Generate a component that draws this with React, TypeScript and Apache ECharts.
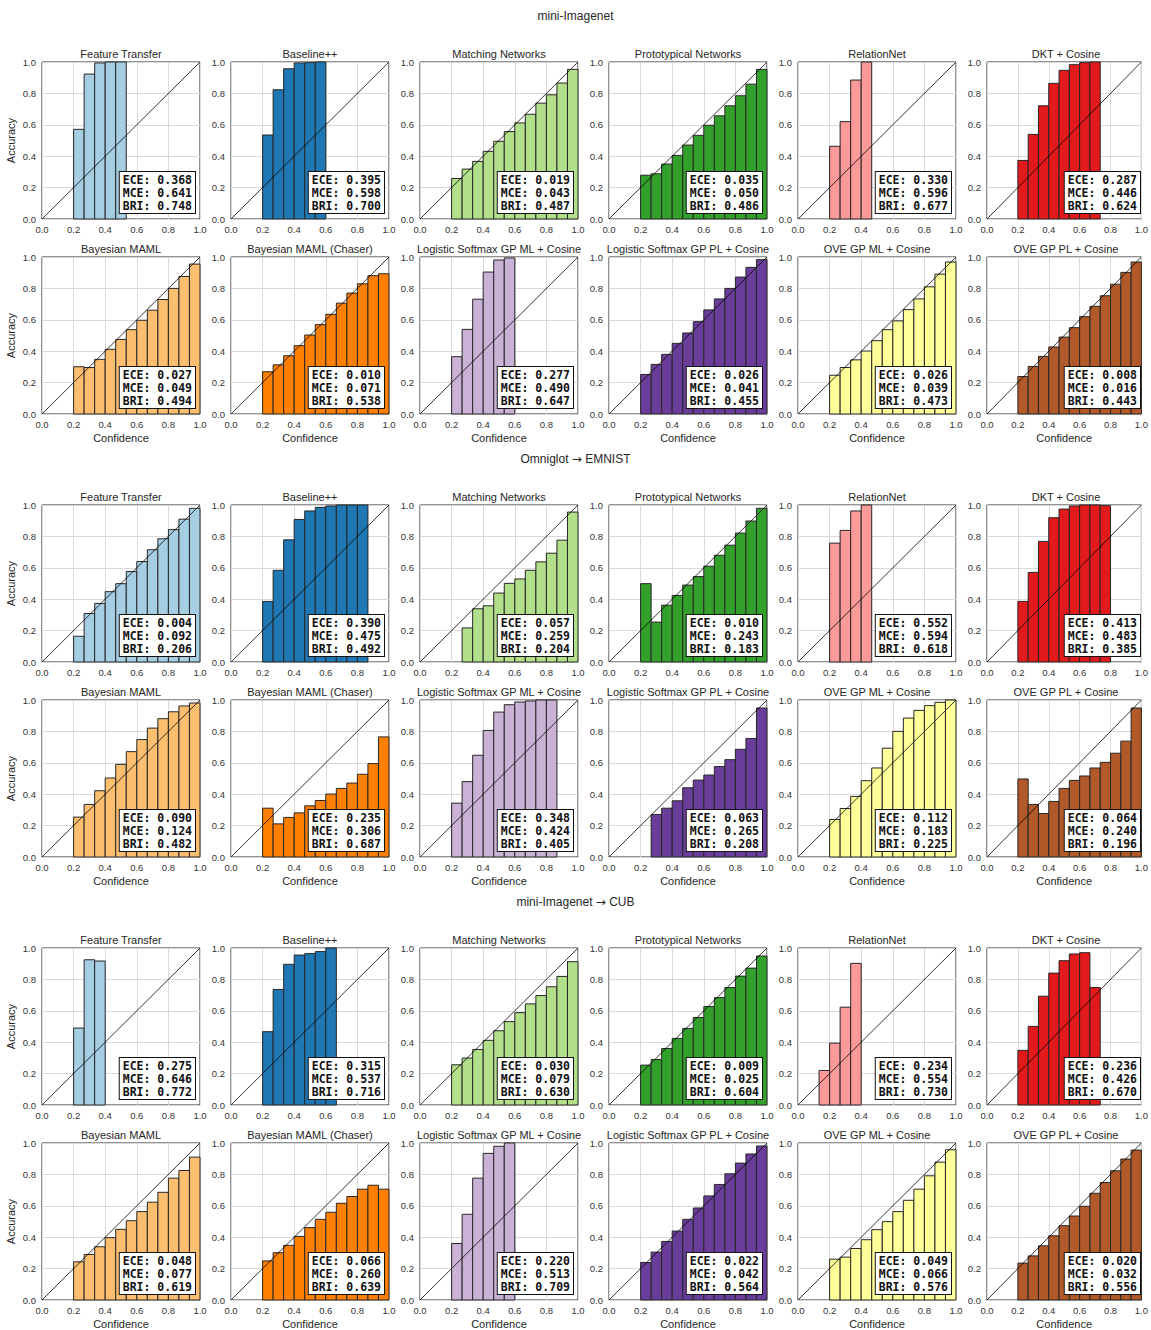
import React, { useEffect, useRef } from "react";
import * as echarts from "echarts";

const W = 1151;
const H = 1330;
const NBINS = 15;
const FONT = "Liberation Sans, Arial, sans-serif";
const MONO = "DejaVu Sans Mono, monospace";

const sectionTitles = ["mini-Imagenet", "Omniglot {arrow|→} EMNIST", "mini-Imagenet {arrow|→} CUB"];

const plotTitles = [
  "Feature Transfer",
  "Baseline++",
  "Matching Networks",
  "Prototypical Networks",
  "RelationNet",
  "DKT + Cosine",
  "Bayesian MAML",
  "Bayesian MAML (Chaser)",
  "Logistic Softmax GP ML + Cosine",
  "Logistic Softmax GP PL + Cosine",
  "OVE GP ML + Cosine",
  "OVE GP PL + Cosine",
];

const plotColors = [
  "#a6cee3", "#1f78b4", "#b2df8a", "#33a02c", "#fb9a99", "#e31a1c",
  "#fdbf6f", "#ff7f00", "#cab2d6", "#6a3d9a", "#ffff99", "#b15928",
];

const tickValues = [0, 0.2, 0.4, 0.6, 0.8, 1.0];

// ---------- Section 1: mini-Imagenet ----------
const s1StartBin = [3, 3, 3, 3, 3, 3, 3, 3, 3, 3, 3, 3];
const s1Accuracy = [
  [0.571, 0.923, 0.994, 1.0, 1.0],
  [0.535, 0.823, 0.957, 0.994, 0.996, 1.0],
  [0.258, 0.318, 0.367, 0.431, 0.495, 0.557, 0.612, 0.667, 0.738, 0.791, 0.866, 0.953],
  [0.279, 0.288, 0.35, 0.405, 0.471, 0.533, 0.597, 0.657, 0.721, 0.785, 0.859, 0.953],
  [0.463, 0.62, 0.885, 1.0],
  [0.373, 0.539, 0.721, 0.864, 0.947, 0.983, 0.996, 1.0],
  [0.301, 0.296, 0.348, 0.412, 0.475, 0.537, 0.597, 0.661, 0.729, 0.8, 0.876, 0.955],
  [0.269, 0.313, 0.371, 0.435, 0.503, 0.569, 0.635, 0.706, 0.77, 0.829, 0.881, 0.893],
  [0.365, 0.539, 0.731, 0.904, 0.981, 0.994],
  [0.252, 0.316, 0.38, 0.45, 0.516, 0.588, 0.663, 0.733, 0.8, 0.872, 0.934, 0.983],
  [0.247, 0.296, 0.345, 0.401, 0.467, 0.537, 0.593, 0.665, 0.733, 0.81, 0.891, 0.968],
  [0.239, 0.303, 0.367, 0.427, 0.49, 0.55, 0.62, 0.686, 0.753, 0.827, 0.902, 0.968],
];
const s1ECE = [0.368, 0.395, 0.019, 0.035, 0.33, 0.287, 0.027, 0.01, 0.277, 0.026, 0.026, 0.008];
const s1MCE = [0.641, 0.598, 0.043, 0.05, 0.596, 0.446, 0.049, 0.071, 0.49, 0.041, 0.039, 0.016];
const s1BRI = [0.748, 0.7, 0.487, 0.486, 0.677, 0.624, 0.494, 0.538, 0.647, 0.455, 0.473, 0.443];

// ---------- Section 2: Omniglot → EMNIST ----------
const s2StartBin = [3, 3, 4, 3, 3, 3, 3, 3, 3, 4, 3, 3];
const s2Accuracy = [
  [0.164, 0.309, 0.373, 0.448, 0.499, 0.576, 0.64, 0.715, 0.785, 0.843, 0.91, 0.979],
  [0.386, 0.584, 0.778, 0.908, 0.962, 0.985, 0.994, 1.0, 1.0, 1.0],
  [0.217, 0.339, 0.358, 0.439, 0.501, 0.529, 0.584, 0.638, 0.693, 0.776, 0.955],
  [0.499, 0.254, 0.362, 0.424, 0.49, 0.544, 0.61, 0.68, 0.744, 0.821, 0.898, 0.979],
  [0.757, 0.838, 0.962, 1.0],
  [0.386, 0.571, 0.768, 0.919, 0.974, 0.994, 1.0, 1.0, 0.996],
  [0.254, 0.335, 0.422, 0.503, 0.59, 0.671, 0.748, 0.821, 0.881, 0.925, 0.962, 0.981],
  [0.311, 0.211, 0.252, 0.281, 0.326, 0.36, 0.401, 0.437, 0.471, 0.527, 0.595, 0.765],
  [0.343, 0.48, 0.648, 0.806, 0.923, 0.97, 0.987, 0.994, 1.0, 1.0],
  [0.271, 0.311, 0.358, 0.441, 0.49, 0.522, 0.576, 0.62, 0.686, 0.755, 0.949],
  [0.239, 0.309, 0.386, 0.486, 0.567, 0.693, 0.8, 0.885, 0.934, 0.964, 0.985, 1.0],
  [0.497, 0.335, 0.277, 0.354, 0.437, 0.488, 0.516, 0.567, 0.603, 0.661, 0.738, 0.949],
];
const s2ECE = [0.004, 0.39, 0.057, 0.01, 0.552, 0.413, 0.09, 0.235, 0.348, 0.063, 0.112, 0.064];
const s2MCE = [0.092, 0.475, 0.259, 0.243, 0.594, 0.483, 0.124, 0.306, 0.424, 0.265, 0.183, 0.24];
const s2BRI = [0.206, 0.492, 0.204, 0.183, 0.618, 0.385, 0.482, 0.687, 0.405, 0.208, 0.225, 0.196];

// ---------- Section 3: mini-Imagenet → CUB ----------
const s3StartBin = [3, 3, 3, 3, 2, 3, 3, 3, 3, 3, 3, 3];
const s3Accuracy = [
  [0.49, 0.925, 0.917],
  [0.467, 0.736, 0.896, 0.955, 0.964, 0.977, 1.0],
  [0.256, 0.299, 0.354, 0.412, 0.473, 0.531, 0.588, 0.644, 0.697, 0.753, 0.819, 0.913],
  [0.254, 0.29, 0.36, 0.424, 0.488, 0.557, 0.627, 0.684, 0.748, 0.821, 0.872, 0.949],
  [0.22, 0.394, 0.623, 0.902],
  [0.348, 0.501, 0.693, 0.84, 0.919, 0.962, 0.97, 0.748],
  [0.243, 0.29, 0.339, 0.397, 0.45, 0.505, 0.563, 0.623, 0.686, 0.776, 0.825, 0.91],
  [0.249, 0.301, 0.348, 0.405, 0.461, 0.514, 0.559, 0.616, 0.659, 0.706, 0.731, 0.706],
  [0.36, 0.546, 0.776, 0.934, 0.979, 1.0],
  [0.239, 0.305, 0.373, 0.439, 0.514, 0.586, 0.663, 0.736, 0.804, 0.872, 0.93, 0.981],
  [0.26, 0.273, 0.328, 0.384, 0.448, 0.499, 0.563, 0.635, 0.706, 0.791, 0.878, 0.957],
  [0.235, 0.281, 0.345, 0.409, 0.473, 0.535, 0.597, 0.68, 0.748, 0.823, 0.898, 0.955],
];
const s3ECE = [0.275, 0.315, 0.03, 0.009, 0.234, 0.236, 0.048, 0.066, 0.22, 0.022, 0.049, 0.02];
const s3MCE = [0.646, 0.537, 0.079, 0.025, 0.554, 0.426, 0.077, 0.26, 0.513, 0.042, 0.066, 0.032];
const s3BRI = [0.772, 0.716, 0.63, 0.604, 0.73, 0.67, 0.619, 0.639, 0.709, 0.564, 0.576, 0.556];

const sections = [
  { start: s1StartBin, acc: s1Accuracy, ece: s1ECE, mce: s1MCE, bri: s1BRI },
  { start: s2StartBin, acc: s2Accuracy, ece: s2ECE, mce: s2MCE, bri: s2BRI },
  { start: s3StartBin, acc: s3Accuracy, ece: s3ECE, mce: s3MCE, bri: s3BRI },
];

// ---------- layout ----------
const colLeft = [42, 231, 420, 609, 798, 987];
const rowTop = [62, 257, 505, 700, 948, 1143];
const PW = 158;
const PH = 157;
const sectionTitleY = [10, 453, 896];

function buildOption() {
  const grid: any[] = [];
  const xAxis: any[] = [];
  const yAxis: any[] = [];
  const series: any[] = [];
  const title: any[] = [];
  const graphic: any[] = [];

  sectionTitles.forEach((t, s) => {
    title.push({
      text: t,
      left: W / 2,
      top: sectionTitleY[s],
      textAlign: "center",
      padding: 0,
      textStyle: {
        fontSize: 12,
        fontWeight: "normal",
        color: "#262626",
        fontFamily: FONT,
        rich: {
          arrow: { fontSize: 12, color: "#262626", fontFamily: "DejaVu Sans" },
        },
      },
    });
  });

  sections.forEach((sec, s) => {
    for (let p = 0; p < 12; p++) {
      const idx = s * 12 + p;
      const row = s * 2 + Math.floor(p / 6);
      const col = p % 6;
      const left = colLeft[col];
      const top = rowTop[row];
      const bottomRow = p >= 6;
      const color = plotColors[p];

      grid.push({
        left,
        top,
        width: PW,
        height: PH,
        show: true,
        borderColor: "#262626",
        borderWidth: 1,
        backgroundColor: "#fff",
        containLabel: false,
      });

      const labelStyle = {
        fontSize: 9.5,
        color: "#333",
        fontFamily: FONT,
        formatter: (v: number) => v.toFixed(1),
        showMinLabel: true,
        showMaxLabel: true,
      };

      xAxis.push({
        gridIndex: idx,
        type: "value",
        min: tickValues[0],
        max: tickValues[tickValues.length - 1],
        interval: 0.2,
        axisLine: { show: false },
        axisTick: { show: false },
        splitLine: { show: true, lineStyle: { color: "#d9d9d9", width: 1 } },
        axisLabel: { ...labelStyle, margin: 5 },
        name: bottomRow ? "Confidence" : "",
        nameLocation: "middle",
        nameGap: 18,
        nameTextStyle: { fontSize: 11, color: "#262626", fontFamily: FONT },
      });

      yAxis.push({
        gridIndex: idx,
        type: "value",
        min: tickValues[0],
        max: tickValues[tickValues.length - 1],
        interval: 0.2,
        axisLine: { show: false },
        axisTick: { show: false },
        splitLine: { show: true, lineStyle: { color: "#d9d9d9", width: 1 } },
        axisLabel: { ...labelStyle, margin: 6 },
        name: col === 0 ? "Accuracy" : "",
        nameLocation: "middle",
        nameRotate: 90,
        nameGap: 26,
        nameTextStyle: { fontSize: 11, color: "#262626", fontFamily: FONT },
      });

      const startBin = sec.start[p];
      const data = sec.acc[p].map((a, i) => [(startBin + i) / NBINS, (startBin + i + 1) / NBINS, a]);

      series.push({
        type: "custom",
        xAxisIndex: idx,
        yAxisIndex: idx,
        data,
        encode: { x: [0, 1], y: 2 },
        z: 2,
        silent: true,
        renderItem: (params: any, api: any) => {
          const tl = api.coord([api.value(0), api.value(2)]);
          const br = api.coord([api.value(1), 0]);
          return {
            type: "rect",
            shape: { x: tl[0], y: tl[1], width: br[0] - tl[0], height: br[1] - tl[1] },
            style: { fill: color, stroke: "#262626", lineWidth: 1 },
          };
        },
      });

      series.push({
        type: "line",
        xAxisIndex: idx,
        yAxisIndex: idx,
        data: [
          [0, 0],
          [1, 1],
        ],
        symbol: "none",
        silent: true,
        z: 3,
        lineStyle: { color: "#000", width: 0.8 },
      });

      title.push({
        text: plotTitles[p],
        left: left + PW / 2,
        top: top - 14,
        textAlign: "center",
        padding: 0,
        textStyle: { fontSize: 11, fontWeight: "normal", color: "#262626", fontFamily: FONT },
      });

      graphic.push({
        type: "text",
        x: left + PW - 5,
        y: top + PH - 6,
        z: 100,
        silent: true,
        style: {
          text: `ECE: ${sec.ece[p].toFixed(3)}\nMCE: ${sec.mce[p].toFixed(3)}\nBRI: ${sec.bri[p].toFixed(3)}`,
          fill: "#111",
          fontFamily: MONO,
          fontWeight: "bold",
          fontSize: 11.5,
          lineHeight: 13,
          align: "right",
          verticalAlign: "bottom",
          backgroundColor: "#fff",
          borderColor: "#111",
          borderWidth: 1,
          padding: [1, 3, 1, 3],
        },
      });
    }
  });

  return {
    animation: false,
    backgroundColor: "#fff",
    title,
    grid,
    xAxis,
    yAxis,
    series,
    graphic,
  };
}

export default function App() {
  const ref = useRef<HTMLDivElement>(null);
  useEffect(() => {
    if (!ref.current) return;
    const chart = echarts.init(ref.current, null, { renderer: "svg" });
    chart.setOption(buildOption() as any);
    return () => chart.dispose();
  }, []);
  return (
    <div
      ref={ref}
      style={{ position: "absolute", left: 0, top: 0, width: W, height: H, background: "#fff" }}
    />
  );
}
